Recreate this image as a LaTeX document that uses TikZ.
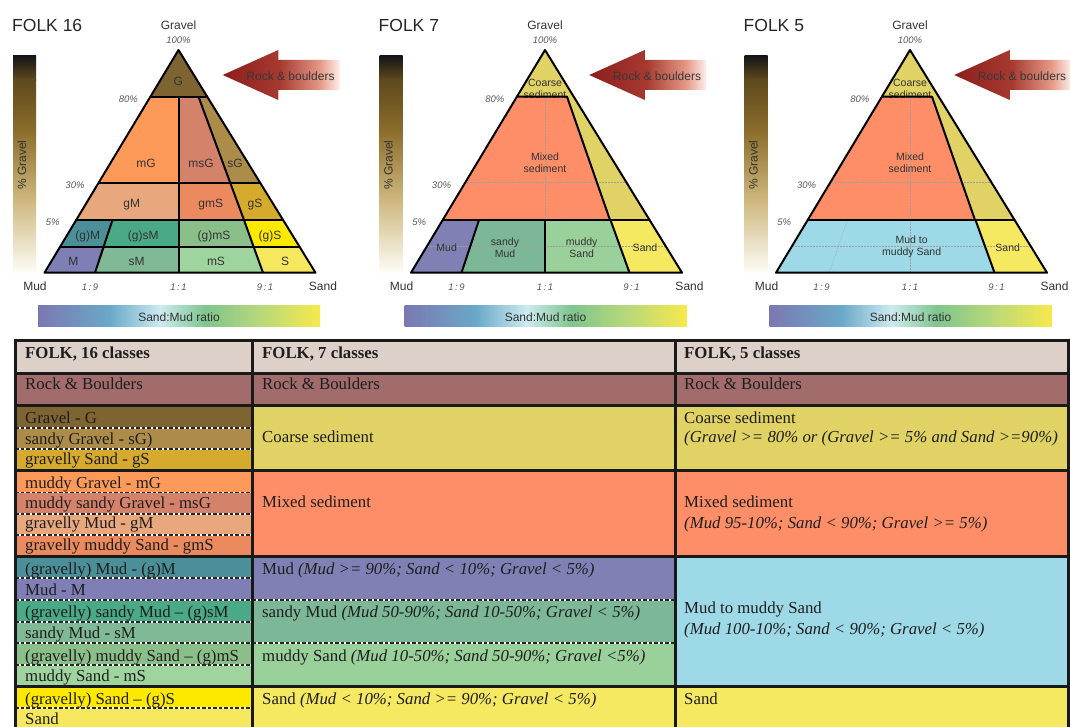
\documentclass[tikz,border=0pt]{standalone}
\usepackage{fontspec}
\setmainfont{Liberation Serif}
\newfontfamily\arial{Liberation Sans}
% triangle colours
\definecolor{cG}{HTML}{7D6431}
\definecolor{cmG}{HTML}{FD9A5A}
\definecolor{cmsG}{HTML}{D4826A}
\definecolor{csG}{HTML}{AD8C4A}
\definecolor{cgM}{HTML}{E9A77E}
\definecolor{cgmS}{HTML}{EA8A5E}
\definecolor{cgS}{HTML}{D6AA2C}
\definecolor{cpgM}{HTML}{4B9099}
\definecolor{cpgsM}{HTML}{4AA987}
\definecolor{cpgmS}{HTML}{8BBF8A}
\definecolor{cpgS}{HTML}{FDE900}
\definecolor{cM}{HTML}{807FB5}
\definecolor{csM}{HTML}{7FB996}
\definecolor{cmS}{HTML}{9FD49E}
\definecolor{cS}{HTML}{F5E85E}
\definecolor{cCoarse}{HTML}{E0D264}
\definecolor{cMixed}{HTML}{FD8E68}
\definecolor{cMud}{HTML}{8080B4}
\definecolor{csMud}{HTML}{7CB897}
\definecolor{cmSand}{HTML}{9AD09A}
\definecolor{cSand}{HTML}{F6E962}
\definecolor{cBlue}{HTML}{9DD9E7}
\definecolor{cHdr}{HTML}{DDD0C8}
\definecolor{cRock}{HTML}{A16C6B}
\definecolor{txt}{HTML}{1E1E1E}
% gradients
\definecolor{gb0}{HTML}{151515}
\definecolor{gb1}{HTML}{5E4A1E}
\definecolor{gb2}{HTML}{8B6C2B}
\definecolor{gb3}{HTML}{CFB87E}
\definecolor{gb4}{HTML}{FDFCF6}
\definecolor{hb0}{HTML}{7B78B1}
\definecolor{hb1}{HTML}{6AA9C8}
\definecolor{hb2}{HTML}{CDEAF0}
\definecolor{hb3}{HTML}{7FC58E}
\definecolor{hb4}{HTML}{B8D87A}
\definecolor{hb5}{HTML}{F7E94C}
\definecolor{ar0}{HTML}{8C1D1D}
\definecolor{ar1}{HTML}{A63A30}
\definecolor{ar2}{HTML}{E59A88}
\definecolor{ar3}{HTML}{FFF5F2}

\tikzset{
  tri/.style={draw=black, line width=2pt, line join=round},
  gridl/.style={draw=gray!75, line width=0.5pt, densely dotted},
  lab/.style={font=\arial\fontsize{12}{14}\selectfont, text=black!80, inner sep=0pt, text height=0.7em, text depth=0pt, yshift=-2pt},
  slab/.style={font=\arial\fontsize{10.5}{12}\selectfont, text=black!80, inner sep=0pt, align=center, yshift=-1.5pt},
  pct/.style={font=\arial\itshape\fontsize{9.5}{11}\selectfont, text=black!65, inner sep=0pt, text height=0.7em, text depth=0pt, yshift=-1.5pt},
  ttl/.style={font=\arial\fontsize{17.5}{20}\selectfont, text=black!85, inner sep=0pt, anchor=west, text height=0.7em, text depth=0pt, yshift=-3pt},
  cell/.style={font=\fontsize{16.8}{19}\selectfont, text=txt, inner sep=0pt, anchor=west, text height=0.62em, text depth=0pt, yshift=-2.5pt},
  hcell/.style={cell, font=\bfseries\fontsize{16.8}{19}\selectfont},
  thick line/.style={draw=black!90, line width=3pt},
  dash line/.style={draw=black!85, line width=1.3pt, dash pattern=on 3.5pt off 2pt},
}

\newcommand{\folkframe}[2]{%
  \node[ttl] (#1title) at (12,25) {#2};
  \node[lab] (#1grav) at (178.5,24) {Gravel};
  \node[pct] (#1p100) at (178.5,39) {100\%};
  \node[pct] (#1p80) at (128.3,97.7) {80\%};
  \node[pct] (#1p30) at (75,183.3) {30\%};
  \node[pct] (#1p5) at (52.7,221) {5\%};
  \node[lab] (#1mud) at (35,285) {Mud};
  \node[lab] (#1sand) at (323,285) {Sand};
  \node[pct] (#1r19) at (90,285) {1\,:\,9};
  \node[pct] (#1r11) at (178.5,285) {1\,:\,1};
  \node[pct] (#1r91) at (265,285) {9\,:\,1};
  % vertical gravel bar
  \shade[top color=gb0, bottom color=gb1] (13,56) rectangle (36,80.3);
  \shade[top color=gb1, bottom color=gb2] (13,80) rectangle (36,130.3);
  \shade[top color=gb2, bottom color=gb3] (13,130) rectangle (36,200.3);
  \shade[top color=gb3, bottom color=gb4] (13,200) rectangle (36,272);
  \node[lab, rotate=90, yshift=2pt, xshift=2pt] (#1pg) at (24.5,165) {\% Gravel};
  % horizontal ratio bar
  \shade[left color=hb0, right color=hb1] (38,305) rectangle (110.3,326);
  \shade[left color=hb1, right color=hb2] (110,305) rectangle (160.3,326);
  \shade[left color=hb2, right color=hb3] (160,305) rectangle (205.3,326);
  \shade[left color=hb3, right color=hb4] (205,305) rectangle (260.3,326);
  \shade[left color=hb4, right color=hb5] (260,305) rectangle (320,326);
  \node[lab] (#1ratio) at (179,316) {Sand:Mud ratio};
  % arrow
  \begin{scope}
    \clip (222.7,75) -- (278.3,50) -- (278.3,60) -- (340,60) -- (340,90) -- (278.3,90) -- (278.3,100) -- cycle;
    \shade[left color=ar0, right color=ar1] (222,49) rectangle (280.3,101);
    \shade[left color=ar1, right color=ar2] (280,49) rectangle (320.3,101);
    \shade[left color=ar2, right color=ar3] (320,49) rectangle (341,101);
  \end{scope}
  \node[lab, text=black!78] (#1rock) at (290.5,75) {Rock \& boulders};
}

\begin{document}
\begin{tikzpicture}[x=1pt, y=-1pt]
\useasboundingbox (0,0) rectangle (1070,727);
\clip (0,0) rectangle (1070,727);
\fill[white] (0,0) rectangle (1070,727);

% ================= FOLK 16 =================
\begin{scope}
\folkframe{a}{FOLK 16}
\fill[cG] (178.5,50) -- (150.4,96.7) -- (207.2,96.7) -- cycle;
\fill[cmG] (150.4,96.7) -- (178.5,96.7) -- (178.5,182.7) -- (98.65,182.7) -- cycle;
\fill[cmsG] (178.5,96.7) -- (198.5,96.7) -- (230.2,182.7) -- (178.5,182.7) -- cycle;
\fill[csG] (198.5,96.7) -- (207.2,96.7) -- (260.1,182.7) -- (230.2,182.7) -- cycle;
\fill[cgM] (98.65,182.7) -- (178.5,182.7) -- (178.5,220) -- (76.2,220) -- cycle;
\fill[cgmS] (178.5,182.7) -- (230.2,182.7) -- (244,220) -- (178.5,220) -- cycle;
\fill[cgS] (230.2,182.7) -- (260.1,182.7) -- (283.1,220) -- (244,220) -- cycle;
\fill[cpgM] (76.2,220) -- (112.5,220) -- (103.6,246.7) -- (60.1,246.7) -- cycle;
\fill[cpgsM] (112.5,220) -- (178.5,220) -- (178.5,246.7) -- (103.6,246.7) -- cycle;
\fill[cpgmS] (178.5,220) -- (244,220) -- (253.6,246.7) -- (178.5,246.7) -- cycle;
\fill[cpgS] (244,220) -- (283.1,220) -- (299.5,246.7) -- (253.6,246.7) -- cycle;
\fill[cM] (60.1,246.7) -- (103.6,246.7) -- (95,272.7) -- (44.5,272.7) -- cycle;
\fill[csM] (103.6,246.7) -- (178.5,246.7) -- (178.5,272.7) -- (95,272.7) -- cycle;
\fill[cmS] (178.5,246.7) -- (253.6,246.7) -- (263,272.7) -- (178.5,272.7) -- cycle;
\fill[cS] (253.6,246.7) -- (299.5,246.7) -- (315.5,272.7) -- (263,272.7) -- cycle;
\draw[tri] (150.4,96.7) -- (207.2,96.7);
\draw[tri] (98.65,182.7) -- (260.1,182.7);
\draw[tri] (76.2,220) -- (283.1,220);
\draw[tri] (60.1,246.7) -- (299.5,246.7);
\draw[tri] (178.5,96.7) -- (178.5,272.7);
\draw[tri] (198.5,96.7) -- (230.2,182.7) -- (244,220) -- (253.6,246.7) -- (263,272.7);
\draw[tri] (112.5,220) -- (95,272.7);
\draw[tri] (178.5,50) -- (44.5,272.7) -- (315.5,272.7) -- cycle;
\node[lab] (aG) at (178.3,80) {G};
\node[lab] (amG) at (146,162.3) {mG};
\node[lab] (amsG) at (201,162.3) {msG};
\node[lab] (asG) at (235,162.3) {sG};
\node[lab] (agM) at (131.7,201.7) {gM};
\node[lab] (agmS) at (210.7,201.7) {gmS};
\node[lab] (agS) at (255,201.7) {gS};
\node[lab] (apgM) at (87.7,234.3) {(g)M};
\node[lab] (apgsM) at (143.3,234.3) {(g)sM};
\node[lab] (apgmS) at (214,234.3) {(g)mS};
\node[lab] (apgS) at (270,234.3) {(g)S};
\node[lab] (aM) at (73.3,260) {M};
\node[lab] (asM) at (136.7,260) {sM};
\node[lab] (amS) at (216,260) {mS};
\node[lab] (aS) at (285,260) {S};
\end{scope}

% ================= FOLK 7 =================
\begin{scope}[shift={(366.5,0)}]
\folkframe{b}{FOLK 7}
\fill[cCoarse] (178.5,50) -- (44.5,272.7) -- (315.5,272.7) -- cycle;
\fill[cMixed] (150.4,96.7) -- (200.5,96.7) -- (243.5,220) -- (76.2,220) -- cycle;
\fill[cMud] (76.2,220) -- (112.5,220) -- (95,272.7) -- (44.5,272.7) -- cycle;
\fill[csMud] (112.5,220) -- (178.5,220) -- (178.5,272.7) -- (95,272.7) -- cycle;
\fill[cmSand] (178.5,220) -- (244,220) -- (263,272.7) -- (178.5,272.7) -- cycle;
\fill[cSand] (244,220) -- (283.1,220) -- (315.5,272.7) -- (263,272.7) -- cycle;
\draw[gridl] (178.5,96.7) -- (178.5,220);
\draw[gridl] (98.65,182.7) -- (260.1,182.7);
\draw[gridl] (60.1,246.7) -- (299.5,246.7);
\node[slab] (bcoarse) at (178.5,87) {Coarse\\sediment};
\node[slab] (bmixed) at (178.5,161) {Mixed\\sediment};
\node[slab] (bmud) at (80.2,246.7) {Mud};
\node[slab] (bsmud) at (138.5,246.7) {sandy\\Mud};
\node[slab] (bmsand) at (215.2,246.7) {muddy\\Sand};
\node[slab] (bsand) at (278.5,246.7) {Sand};
\draw[tri] (150.4,96.7) -- (200.5,96.7) -- (243.5,220);
\draw[tri] (76.2,220) -- (283.1,220);
\draw[tri] (112.5,220) -- (95,272.7);
\draw[tri] (178.5,220) -- (178.5,272.7);
\draw[tri] (244,220) -- (263,272.7);
\draw[tri] (178.5,50) -- (44.5,272.7) -- (315.5,272.7) -- cycle;
\end{scope}

% ================= FOLK 5 =================
\begin{scope}[shift={(731.5,0)}]
\folkframe{c}{FOLK 5}
\fill[cCoarse] (178.5,50) -- (44.5,272.7) -- (315.5,272.7) -- cycle;
\fill[cMixed] (150.4,96.7) -- (200.5,96.7) -- (243.5,220) -- (76.2,220) -- cycle;
\fill[cBlue] (76.2,220) -- (244,220) -- (263,272.7) -- (44.5,272.7) -- cycle;
\fill[cSand] (244,220) -- (283.1,220) -- (315.5,272.7) -- (263,272.7) -- cycle;
\draw[gridl] (178.5,96.7) -- (178.5,272.7);
\draw[gridl] (98.65,182.7) -- (260.1,182.7);
\draw[gridl] (60.1,246.7) -- (299.5,246.7);
\draw[gridl] (115.8,220) -- (97.8,272.7);
\node[slab] (ccoarse) at (178.5,87) {Coarse\\sediment};
\node[slab] (cmixed) at (178.5,161) {Mixed\\sediment};
\node[slab] (cmud) at (180.2,245.5) {Mud to\\muddy Sand};
\node[slab] (csand) at (276.2,246.7) {Sand};
\draw[tri] (150.4,96.7) -- (200.5,96.7) -- (243.5,220);
\draw[tri] (76.2,220) -- (283.1,220);
\draw[tri] (244,220) -- (263,272.7);
\draw[tri] (178.5,50) -- (44.5,272.7) -- (315.5,272.7) -- cycle;
\end{scope}

% ================= TABLE =================
\fill[cHdr] (15,340) rectangle (1068,373);
\fill[cRock] (15,373) rectangle (1068,405.5);
% column 1
\fill[cG] (15,405.5) rectangle (252.5,428);
\fill[csG] (15,428) rectangle (252.5,449);
\fill[cgS] (15,449) rectangle (252.5,470);
\fill[cmG] (15,470) rectangle (252.5,492.5);
\fill[cmsG] (15,492.5) rectangle (252.5,514);
\fill[cgM] (15,514) rectangle (252.5,535);
\fill[cgmS] (15,535) rectangle (252.5,556);
\fill[cpgM] (15,556) rectangle (252.5,578);
\fill[cM] (15,578) rectangle (252.5,600);
\fill[cpgsM] (15,600) rectangle (252.5,622);
\fill[csM] (15,622) rectangle (252.5,643);
\fill[cpgmS] (15,643) rectangle (252.5,665);
\fill[cmS] (15,665) rectangle (252.5,686);
\fill[cpgS] (15,686) rectangle (252.5,708);
\fill[cS] (15,708) rectangle (252.5,730);
% column 2
\fill[cCoarse] (252.5,405.5) rectangle (675.5,470);
\fill[cMixed] (252.5,470) rectangle (675.5,556);
\fill[cMud] (252.5,556) rectangle (675.5,600);
\fill[csMud] (252.5,600) rectangle (675.5,643);
\fill[cmSand] (252.5,643) rectangle (675.5,686);
\fill[cSand] (252.5,686) rectangle (675.5,730);
% column 3
\fill[cCoarse] (675.5,405.5) rectangle (1068,470);
\fill[cMixed] (675.5,470) rectangle (1068,556);
\fill[cBlue] (675.5,556) rectangle (1068,686);
\fill[cSand] (675.5,686) rectangle (1068,730);
% dashed separators
\foreach \yy in {428,449,492.5,514,535,578,600,622,643,665,708} {
  \draw[white, line width=1.3pt] (15,\yy) -- (252.5,\yy);
  \draw[dash line] (15,\yy) -- (252.5,\yy);
}
\foreach \yy in {600,643} {
  \draw[white, line width=1.3pt] (252.5,\yy) -- (675.5,\yy);
  \draw[dash line] (252.5,\yy) -- (675.5,\yy);
}
% thick grid
\foreach \yy in {340,373,405.5,470,556,686} {
  \draw[thick line] (15,\yy) -- (1068,\yy);
}
\foreach \xx in {15,252.5,675.5,1068} {
  \draw[thick line] (\xx,338.5) -- (\xx,730);
}
% table text
\node[hcell] (h1) at (25,353) {FOLK, 16 classes};
\node[hcell] (h2) at (262,353) {FOLK, 7 classes};
\node[hcell] (h3) at (684,353) {FOLK, 5 classes};
\node[cell] (r1) at (25,384) {Rock \& Boulders};
\node[cell] (r2) at (262,384) {Rock \& Boulders};
\node[cell] (r3) at (684,384) {Rock \& Boulders};
\node[cell] (k1) at (25,418) {Gravel - G};
\node[cell] (k2) at (25,439) {sandy Gravel - sG)};
\node[cell] (k3) at (25,459) {gravelly Sand - gS};
\node[cell] (k4) at (25,483) {muddy Gravel - mG};
\node[cell] (k5) at (25,503) {muddy sandy Gravel - msG};
\node[cell] (k6) at (25,523) {gravelly Mud - gM};
\node[cell] (k7) at (25,545) {gravelly muddy Sand - gmS};
\node[cell] (k8) at (25,569) {(gravelly) Mud - (g)M};
\node[cell] (k9) at (25,590) {Mud - M};
\node[cell] (k10) at (25,612) {(gravelly) sandy Mud – (g)sM};
\node[cell] (k11) at (25,633) {sandy Mud - sM};
\node[cell] (k12) at (25,656) {(gravelly) muddy Sand – (g)mS};
\node[cell] (k13) at (25,676) {muddy Sand - mS};
\node[cell] (k14) at (25,699) {(gravelly) Sand – (g)S};
\node[cell] (k15) at (25,719) {Sand};
\node[cell] (s1) at (262,437) {Coarse sediment};
\node[cell] (s2) at (262,502) {Mixed sediment};
\node[cell] (s3) at (262,569) {Mud \textit{(Mud >= 90\%; Sand < 10\%; Gravel < 5\%)}};
\node[cell] (s4) at (262,612) {sandy Mud \textit{(Mud 50-90\%; Sand 10-50\%; Gravel < 5\%)}};
\node[cell] (s5) at (262,656) {muddy Sand \textit{(Mud 10-50\%; Sand 50-90\%; Gravel <5\%)}};
\node[cell] (s6) at (262,699) {Sand \textit{(Mud < 10\%; Sand >= 90\%; Gravel < 5\%)}};
\node[cell] (f1) at (684,418) {Coarse sediment};
\node[cell] (f1b) at (684,437) {\textit{(Gravel >= 80\% or (Gravel >= 5\% and Sand >=90\%)}};
\node[cell] (f2) at (684,502) {Mixed sediment};
\node[cell] (f2b) at (684,523) {\textit{(Mud 95-10\%; Sand < 90\%; Gravel >= 5\%)}};
\node[cell] (f3) at (684,608) {Mud to muddy Sand};
\node[cell] (f3b) at (684,629) {\textit{(Mud 100-10\%; Sand < 90\%; Gravel < 5\%)}};
\node[cell] (f4) at (684,699) {Sand};
\end{tikzpicture}
\end{document}
